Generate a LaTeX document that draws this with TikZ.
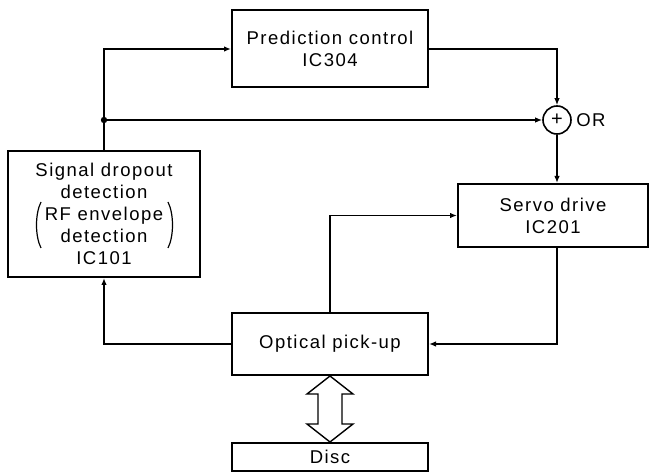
\documentclass[tikz,border=0pt]{standalone}
\usepackage{fontspec}
\usepackage{tikz}
\usetikzlibrary{positioning, arrows.meta, calc}
\newfontfamily\blockfont[LetterSpace=8]{Liberation Sans}
\tikzset{
  box/.style={
    draw, rectangle, line width=2pt,
    font=\blockfont\fontsize{18.5}{22}\selectfont,
    inner sep=0pt, align=center
  },
  sumc/.style={
    draw, circle, line width=1.6pt,
    minimum size=28pt, inner sep=0pt,
    font=\blockfont\fontsize{20}{20}\selectfont
  },
  wire/.style={line width=1.4pt},
  sarr/.style={-{Latex[length=7pt, width=5.5pt]}, line width=1.4pt},
  paren/.style={line width=1.2pt},
}

\begin{document}
\begin{tikzpicture}[x=1pt, y=-1pt]
  \useasboundingbox (0,0) rectangle (649,473);
  \node[box, minimum width=196pt, minimum height=77pt] (pred) at (330,49)
    {Prediction control\\IC304};
  \node[box, minimum width=192pt, minimum height=126pt] (drop) at (104,214)
    {Signal dropout\\detection\\RF envelope\\detection\\IC101};
  \node[box, minimum width=190pt, minimum height=63pt] (servo) at (553,215.5)
    {Servo drive\\IC201};
  \node[box, minimum width=196pt, minimum height=62pt] (pick) at (330,344)
    {Optical pick-up};
  \node[box, minimum width=196pt, minimum height=28pt] (disc) at (330,457)
    {Disc};
  \node[sumc] (orgate) at (557,120) {+};
  \node[right=1pt of orgate, font=\blockfont\fontsize{18.5}{22}\selectfont] (orlab) {OR};
  \draw[paren] ($(drop.center)+(-63,-12)$) .. controls +(-6,12) and +(-6,-12)
    .. ($(drop.center)+(-63,34)$);
  \draw[paren] ($(drop.center)+(64,-12)$) .. controls +(6,12) and +(6,-12)
    .. ($(drop.center)+(64,34)$);
  \coordinate (jn) at (drop.north |- orgate.west);
  \draw[sarr] (drop.north) |- (pred.west);
  \draw[sarr] (jn) -- (orgate.west);
  \fill (jn) circle (3.2pt);
  \draw[sarr] (pred.east) -| (orgate.north);
  \draw[sarr] (orgate.south) -- (orgate.south |- servo.north);
  \draw[sarr] (pick.north) |- (servo.west);
  \draw[sarr] (orgate.south |- servo.south) |- (pick.east);
  \draw[sarr] (pick.west) -| (drop.south);
  \draw[wire] (pick.south) -- ++(23,18) -- ++(-11,0)
    -- ($(disc.north)+(12,-18)$) -- ++(11,0) -- (disc.north)
    -- ++(-23,-18) -- ++(11,0)
    -- ($(pick.south)+(-12,18)$) -- ++(-11,0) -- cycle;
\end{tikzpicture}
\end{document}
